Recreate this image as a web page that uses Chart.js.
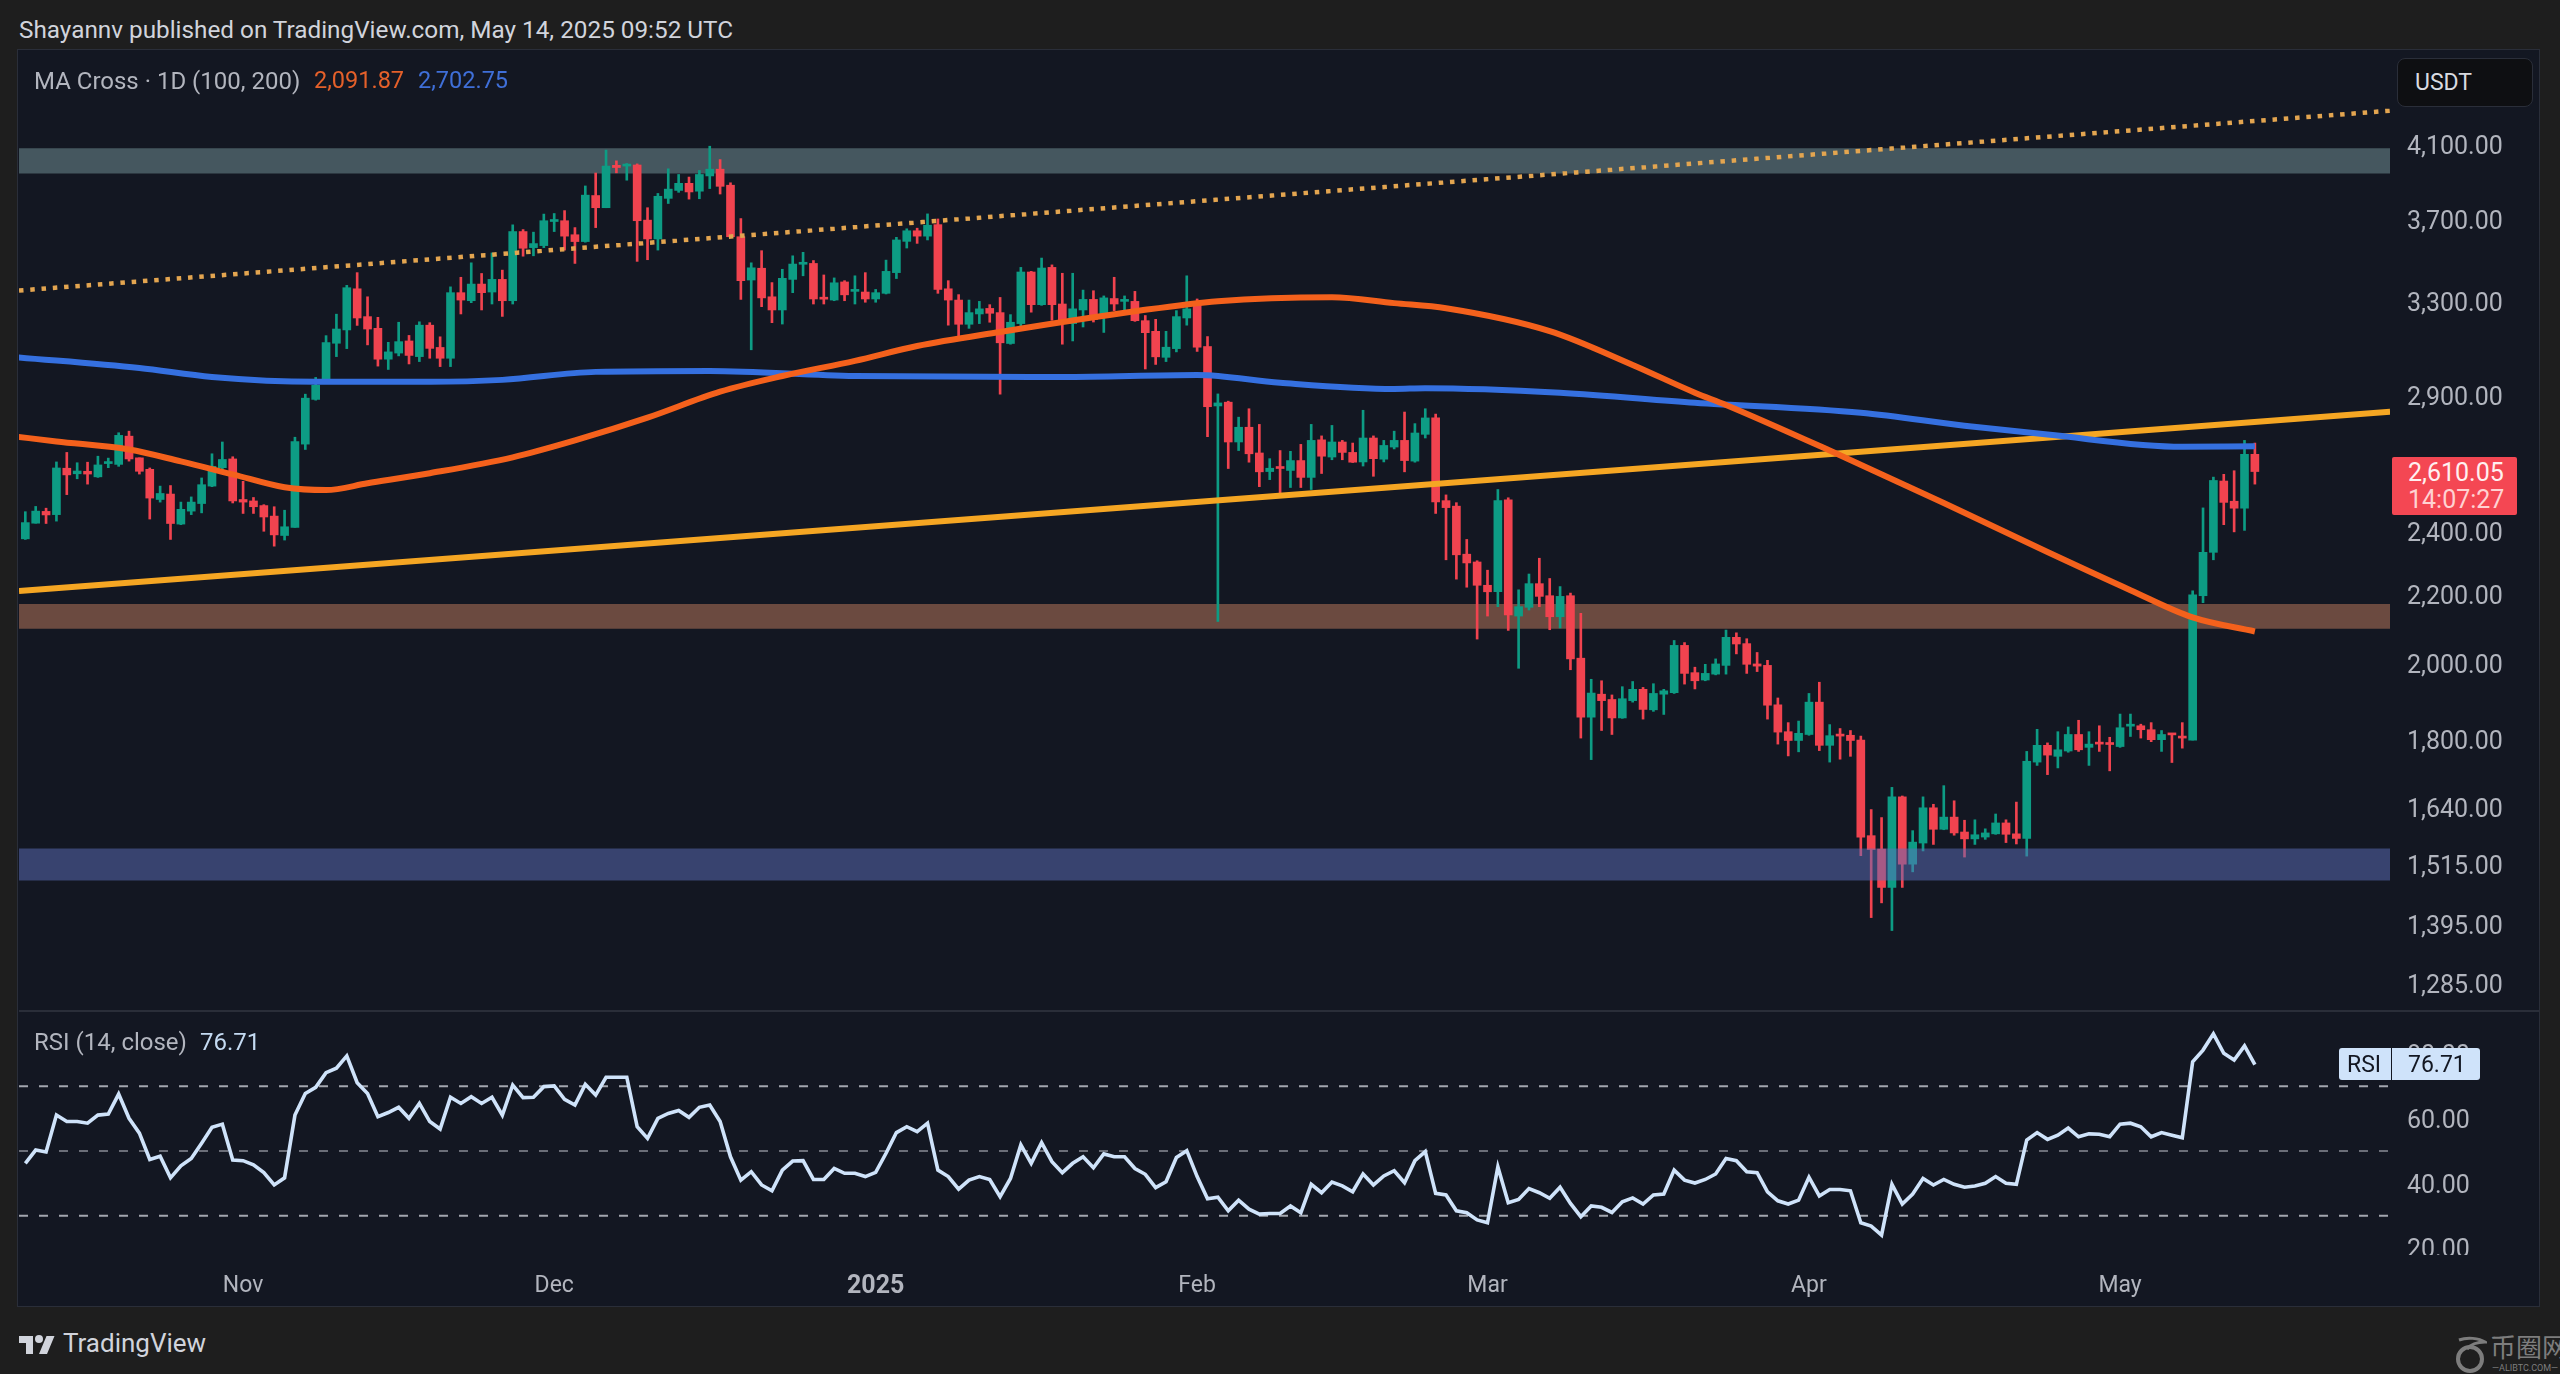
<!DOCTYPE html>
<html>
<head>
<meta charset="utf-8">
<title>ETH/USDT</title>
<script src="https://cdn.jsdelivr.net/npm/chart.js@4"></script>
<style>
    html, body { margin: 0; padding: 0; background: #1e1e1e; }
    body { width: 2560px; height: 1374px; position: relative; overflow: hidden; font-family: Roboto, sans-serif; }
    .abs { position: absolute; white-space: nowrap; line-height: 1; }
    #pane { position: absolute; left: 17px; top: 49px; width: 2523px; height: 1258px; background: #131722; border: 1px solid #2a2e39; box-sizing: border-box; }
    #sep { position: absolute; left: 19px; top: 1010px; width: 2521px; height: 2px; background: #2a2e39; }
    canvas { position: absolute; left: 19px; }
</style>
</head>
<body>
<div id="pane"></div>
<div id="sep"></div>
<canvas id="priceChart" width="2521" height="960" style="top:50px"></canvas>
<canvas id="rsiChart" width="2521" height="295" style="top:1012px"></canvas>

<div class="abs" style="left:19px;top:18px;font-size:24.3px;color:#d1d4dc">Shayannv published on TradingView.com, May 14, 2025 09:52 UTC</div>
<div class="abs" style="left:34px;top:69px;font-size:24px;color:#b2b5be">MA Cross · 1D (100, 200)</div>
<div class="abs" style="left:314px;top:69px;font-size:23.5px;color:#e5602a">2,091.87</div>
<div class="abs" style="left:418px;top:69px;font-size:23.5px;color:#3f6fd8">2,702.75</div>
<div class="abs" style="left:2397px;top:58px;width:136px;height:49px;background:#0e0f12;border:1px solid #2a2e39;border-radius:8px;box-sizing:border-box"></div>
<div class="abs" style="left:2415px;top:71px;font-size:23px;color:#d9dbe0">USDT</div>

<!-- etiket harga terakhir -->
<div class="abs" style="left:2392px;top:457px;width:125px;height:58px;background:#f44753;border-radius:2px"></div>
<div class="abs" style="left:2408px;top:460px;font-size:25px;color:#fff0f0">2,610.05</div>
<div class="abs" style="left:2408px;top:487px;font-size:25px;color:#ffd2d2">14:07:27</div>

<div class="abs" style="left:34px;top:1030px;font-size:24px;color:#b2b5be">RSI (14, close)</div>
<div class="abs" style="left:200px;top:1030px;font-size:24px;color:#c4daf2">76.71</div>
<div class="abs" style="left:2339px;top:1048px;width:141px;height:32px;background:#cfe3fa;border-radius:3px"></div>
<div class="abs" style="left:2391px;top:1048px;width:1px;height:32px;background:#131722"></div>
<div class="abs" style="left:2347px;top:1053px;font-size:23px;color:#131722">RSI</div>
<div class="abs" style="left:2408px;top:1053px;font-size:23px;color:#131722">76.71</div>
<!-- nutup bagian bawah label 20.00 seperti aslinya -->
<div class="abs" style="left:2395px;top:1255px;width:130px;height:14px;background:#131722"></div>

<svg class="abs" style="left:19px;top:1332px" width="36" height="22" viewBox="0 0 36 22">
    <path fill="#d1d4dc" d="M14 22H7V11H0V4h14v18zM28 22h-8l7.5-18h8L28 22z"></path>
    <circle fill="#d1d4dc" cx="20" cy="7" r="4"></circle>
</svg>
<div class="abs" style="left:63px;top:1330px;font-size:26px;color:#d1d4dc">TradingView</div>

<svg class="abs" style="left:2455px;top:1336px" width="32" height="38" viewBox="0 0 32 38">
    <circle cx="15" cy="23" r="12" fill="none" stroke="#7d7d7d" stroke-width="4"></circle>
    <path d="M4 4 C12 1 24 2 30 6 C22 6 16 8 12 13" fill="none" stroke="#7d7d7d" stroke-width="3"></path>
</svg>
<div class="abs" style="left:2490px;top:1333px;font-size:26px;font-family:'Noto Sans CJK SC';color:#7d7d7d">币圈网</div>
<div class="abs" style="left:2492px;top:1364px;font-size:9px;color:#7d7d7d">—ALIBTC.COM—</div>

<script>
// Candle harian (indeks 0 = 11 Okt 2024, 215 = 14 Mei 2025)
const opens = [2378,2430,2470,2459,2622,2602,2611,2591,2639,2636,
    2741,2660,2618,2511,2530,2427,2471,2497,2558,2624,
    2656,2511,2506,2490,2454,2389,2416,2711,2884,2955,
    3117,3175,3361,3234,3182,3049,3075,3127,3060,3196,
    3099,3053,3343,3306,3383,3346,3405,3306,3638,3558,
    3568,3689,3693,3622,3588,3824,3760,3987,3983,3989,
    3696,3601,3809,3851,3889,3847,3929,3966,3879,3612,
    3402,3458,3324,3264,3405,3477,3481,3319,3309,3393,
    3349,3346,3314,3340,3437,3589,3642,3615,3673,3361,
    3309,3200,3246,3271,3252,3116,3203,3440,3288,3462,
    3291,3203,3264,3312,3240,3316,3303,3303,3216,3169,
    3057,3094,3228,3288,3103,2858,2873,2719,2775,2678,
    2610,2625,2614,2650,2589,2727,2663,2719,2680,2645,
    2734,2655,2700,2725,2648,2748,2811,2507,2488,2328,
    2303,2230,2210,2510,2137,2163,2235,2198,2135,2198,
    2016,1858,1918,1904,1856,1901,1931,1877,1918,1922,
    2052,1976,1956,1972,1996,2075,2057,2000,1996,1890,
    1821,1799,1814,1897,1787,1814,1812,1800,1577,1548,
    1468,1664,1516,1561,1639,1591,1618,1585,1570,1574,
    1581,1605,1581,1571,1746,1787,1760,1773,1814,1782,
    1794,1793,1784,1835,1836,1826,1801,1816,1809,1800,
    2198,2334,2576,2505,2481,2673];
const highs = [2469,2487,2481,2645,2680,2642,2644,2666,2659,2754,
    2760,2660,2623,2558,2560,2502,2520,2587,2675,2719,
    2664,2575,2518,2493,2486,2474,2737,2905,2973,3150,
    3245,3377,3437,3324,3231,3121,3209,3151,3211,3207,
    3145,3370,3415,3484,3433,3532,3449,3672,3648,3635,
    3727,3730,3745,3658,3875,3945,4072,4012,3997,3995,
    3760,3835,3968,3937,3923,3959,4094,4019,3892,3704,
    3484,3543,3390,3453,3518,3535,3495,3426,3412,3399,
    3422,3437,3358,3497,3609,3652,3655,3728,3702,3399,
    3334,3309,3303,3288,3321,3243,3462,3443,3507,3474,
    3434,3434,3355,3352,3328,3415,3328,3349,3239,3222,
    3169,3261,3422,3314,3146,2906,2877,2814,2847,2786,
    2657,2687,2684,2710,2786,2742,2782,2725,2715,2841,
    2742,2725,2760,2834,2789,2847,2826,2527,2500,2376,
    2307,2277,2546,2517,2216,2265,2315,2251,2226,2206,
    2145,1958,1954,1916,1938,1952,1936,1946,1931,2066,
    2060,1991,1999,2014,2096,2088,2071,2032,2010,1908,
    1844,1848,1920,1950,1839,1829,1824,1810,1635,1617,
    1686,1666,1588,1664,1647,1690,1655,1611,1612,1592,
    1625,1612,1652,1772,1827,1793,1821,1833,1850,1821,
    1836,1807,1866,1866,1840,1844,1824,1816,1844,2213,
    2482,2590,2600,2613,2725,2715];
const lows = [2376,2430,2429,2437,2528,2584,2565,2589,2624,2629,
    2648,2601,2444,2502,2376,2425,2459,2465,2556,2614,
    2499,2463,2463,2403,2354,2374,2416,2691,2881,2952,
    3060,3094,3195,3110,3020,3006,3063,3029,3039,3053,
    3018,3018,3246,3297,3264,3291,3235,3291,3516,3518,
    3558,3638,3546,3481,3585,3658,3760,3946,3906,3491,
    3499,3546,3782,3841,3805,3807,3861,3832,3609,3312,
    3089,3279,3207,3201,3343,3422,3291,3291,3306,3306,
    3291,3299,3299,3337,3409,3556,3579,3596,3340,3196,
    3146,3182,3203,3209,2905,3113,3185,3254,3285,3218,
    3113,3127,3188,3210,3164,3261,3261,3213,3008,3027,
    3039,3080,3196,3082,2739,2121,2621,2687,2644,2556,
    2581,2519,2553,2553,2546,2603,2653,2653,2643,2630,
    2593,2645,2693,2609,2644,2734,2463,2310,2249,2224,
    2070,2137,2165,2095,1988,2155,2165,2097,2102,1984,
    1805,1752,1824,1814,1855,1897,1853,1873,1865,1920,
    1945,1932,1954,1970,1972,2028,1974,1979,1853,1790,
    1761,1771,1812,1774,1746,1753,1760,1534,1408,1437,
    1383,1468,1500,1544,1558,1590,1578,1531,1558,1569,
    1580,1562,1559,1533,1738,1716,1732,1770,1772,1738,
    1772,1725,1782,1809,1805,1796,1772,1745,1780,1800,
    2177,2310,2425,2401,2406,2565];
const closes = [2432,2471,2458,2623,2598,2612,2601,2634,2644,2744,
    2656,2611,2516,2532,2429,2477,2502,2563,2629,2654,
    2506,2502,2486,2451,2391,2418,2721,2889,2941,3120,
    3179,3366,3228,3179,3049,3080,3124,3065,3196,3095,
    3053,3343,3309,3383,3343,3405,3306,3638,3555,3578,
    3693,3699,3615,3588,3826,3760,3983,3975,3991,3693,
    3601,3820,3858,3889,3843,3937,3966,3873,3612,3399,
    3460,3319,3264,3410,3478,3484,3314,3313,3389,3333,
    3355,3314,3343,3443,3596,3642,3615,3670,3358,3309,
    3200,3252,3269,3249,3119,3209,3440,3288,3459,3288,
    3206,3269,3312,3221,3319,3291,3309,3216,3163,3059,
    3100,3234,3269,3100,2855,2870,2719,2775,2675,2609,
    2622,2621,2650,2589,2725,2666,2719,2680,2644,2734,
    2657,2706,2725,2650,2753,2811,2503,2483,2326,2300,
    2230,2210,2507,2140,2165,2235,2196,2135,2196,2014,
    1858,1921,1901,1856,1906,1931,1878,1920,1927,2052,
    1974,1954,1974,2000,2075,2056,1999,1994,1889,1820,
    1799,1817,1897,1787,1811,1810,1799,1574,1547,1468,
    1664,1516,1563,1639,1591,1618,1583,1570,1579,1583,
    1605,1580,1571,1748,1787,1763,1776,1814,1776,1790,
    1790,1789,1831,1838,1826,1801,1814,1813,1805,2201,
    2334,2578,2501,2481,2673,2610.05];

// RSI per candle
const rsiValues = [46.2,50.3,49.7,61.1,59.1,59.1,58.6,61.1,61.4,67.6,
    60.1,55.5,47.4,48.4,41.7,45.4,47.7,52.4,57.3,58.3,
    47.2,47.0,45.7,43.3,39.5,41.7,61.1,67.8,69.7,74.2,
    75.6,79.4,71.1,67.8,60.6,61.9,63.5,60.1,64.7,59.1,
    56.8,66.6,64.7,66.8,64.7,66.6,61.1,70.4,66.5,66.6,
    69.9,70.1,66.0,64.2,70.6,67.3,72.8,72.8,72.8,57.5,
    53.9,60.1,61.6,62.5,60.4,63.5,64.2,59.1,48.2,41.0,
    43.6,39.5,37.7,44.1,46.9,47.0,41.2,41.2,44.6,43.1,
    43.1,42.1,43.4,49.3,55.7,57.5,56.0,58.6,44.1,42.1,
    38.2,41.0,42.1,41.2,35.9,41.5,51.9,46.2,52.6,46.7,
    43.3,46.2,48.2,44.8,49.1,48.2,48.2,44.6,42.8,38.7,
    40.5,48.0,50.1,42.1,35.2,35.7,31.5,34.8,32.0,30.5,
    30.7,30.7,33.0,30.9,39.7,37.1,40.4,39.2,37.4,42.9,
    39.5,42.3,43.9,40.2,47.0,49.8,36.9,36.4,31.5,30.9,
    28.7,27.8,45.1,34.0,35.0,38.4,37.1,35.4,38.8,33.8,
    29.7,33.0,32.6,31.0,34.3,35.5,33.6,36.4,36.7,44.1,
    41.0,40.1,41.2,42.9,47.7,47.0,43.6,43.3,37.4,34.6,
    33.6,34.8,41.9,36.1,38.1,38.1,37.7,27.8,26.8,24.0,
    39.7,33.6,36.7,41.5,39.5,41.2,39.7,38.8,39.2,40.0,
    42.1,40.0,39.7,53.4,55.7,53.6,54.9,57.1,54.4,55.3,
    55.2,54.4,58.3,58.6,57.5,54.4,55.7,54.9,54.1,77.6,
    81.2,86.2,80.2,78.1,82.5,76.71];

// MA 100 dan 200, titik-titik yang dibaca dari garisnya
const ma100Index = [-1,3,10,15,20,25,29,33,39,47,53,60,67,73,80,86,94,107,115,126,132,137,147,155,161,164,174,185,195,203,209,215];
const ma100Values = [2740,2721,2691,2647,2600,2554,2544,2568,2604,2662,2725,2812,2915,2979,3042,3105,3166,3258,3304,3322,3295,3272,3170,3025,2911,2862,2687,2499,2335,2215,2133,2091.87];
const ma200Index = [-1,11,18,28,39,46,55,66,80,100,113,121,132,135,148,161,177,187,195,208,215];
const ma200Values = [3058,3012,2975,2955,2955,2963,2996,3000,2979,2975,2983,2951,2926,2929,2911,2871,2831,2781,2747,2701,2702.75];

// garis tren dan zona harga [bawah, atas]
const trendSolid = [2212, 2835];
const trendDotted = [3353, 4300];
const zoneGrey = [3943, 4083];
const zoneBrown = [2100, 2173];
const zoneBlue = [1482, 1549];

const priceTicks = [4100, 3700, 3300, 2900, 2400, 2200, 2000, 1800, 1640, 1515, 1395, 1285];
const rsiTicks = [80, 60, 40, 20];
const rsiLevels = [70, 50, 30];
const timeTickIndex = [21, 51, 82, 113, 141, 172, 202];
const timeTickLabels = ['Nov', 'Dec', '2025', 'Feb', 'Mar', 'Apr', 'May'];

const xMin = -0.61, xMax = 228.03;
const green = '#0d9c84', red = '#f1434f';
const axisFont = { family: 'Roboto', size: 25 };

const candleColors = closes.map((c, i) => c >= opens[i] ? green : red);
const toPoints = (xs, ys) => xs.map((x, i) => ({ x: x, y: ys[i] }));

// sumbu kanan: lebar tetap, tanpa margin atas/bawah supaya area plot penuh
function fitRightAxis(axis) {
    axis.width = 150;
    axis.paddingTop = 0;
    axis.paddingBottom = 0;
}

function zoneDataset(zone, color, order) {
    return {
        type: 'line',
        data: [{ x: xMin, y: zone[1] }, { x: xMax, y: zone[1] }],
        borderWidth: 0,
        pointRadius: 0,
        fill: { target: { value: zone[0] } },
        backgroundColor: color,
        order: order
    };
}

function lineDataset(points, color, width, order, dash) {
    return {
        type: 'line',
        data: points,
        borderColor: color,
        borderWidth: width,
        borderDash: dash || [],
        pointRadius: 0,
        fill: false,
        cubicInterpolationMode: 'monotone',
        order: order
    };
}

new Chart(document.getElementById('priceChart'), {
    type: 'bar',
    data: {
        datasets: [
            zoneDataset(zoneGrey, 'rgba(119, 151, 156, 0.5)', 10),
            zoneDataset(zoneBrown, 'rgba(195, 125, 94, 0.5)', 10),
            // sumbu candle
            {
                data: lows.map((l, i) => ({ x: i, y: [l, highs[i]] })),
                backgroundColor: candleColors,
                barThickness: 2,
                grouped: false,
                order: 9
            },
            // badan candle
            {
                data: opens.map((o, i) => ({ x: i, y: [o, closes[i]] })),
                backgroundColor: candleColors,
                barThickness: 8,
                minBarLength: 2,
                grouped: false,
                order: 8
            },
            lineDataset([{ x: xMin, y: trendDotted[0] }, { x: xMax, y: trendDotted[1] }], '#e3a550', 4.5, 6, [4.5, 6.8]),
            lineDataset([{ x: xMin, y: trendSolid[0] }, { x: xMax, y: trendSolid[1] }], '#f5a623', 6, 5),
            lineDataset(toPoints(ma200Index, ma200Values), '#3570e0', 6, 4),
            lineDataset(toPoints(ma100Index, ma100Values), '#f4611c', 6, 3),
            zoneDataset(zoneBlue, 'rgba(93, 111, 188, 0.5)', 1)
        ]
    },
    options: {
        responsive: false,
        animation: false,
        events: [],
        layout: { padding: 0 },
        plugins: { legend: { display: false }, tooltip: { enabled: false } },
        scales: {
            x: { type: 'linear', min: xMin, max: xMax, offset: false, display: false, grid: { display: false } },
            y: {
                type: 'logarithmic',
                position: 'right',
                min: 1239,
                max: 4677,
                beginAtZero: false,
                grid: { display: false, drawTicks: false },
                border: { display: false },
                afterFit: fitRightAxis,
                afterBuildTicks: (axis) => { axis.ticks = priceTicks.map(v => ({ value: v })); },
                ticks: {
                    autoSkip: false,
                    padding: 17,
                    labelOffset: 3,
                    color: '#b2b5be',
                    font: axisFont,
                    callback: (v) => v.toLocaleString('en-US', { minimumFractionDigits: 2 })
                }
            }
        }
    }
});

new Chart(document.getElementById('rsiChart'), {
    type: 'line',
    data: {
        datasets: [
            ...rsiLevels.map((level) => ({
                data: [{ x: xMin, y: level }, { x: xMax, y: level }],
                borderColor: level === 50 ? '#6b6e78' : '#a3a6af',
                borderWidth: 2,
                borderDash: [9, 11],
                pointRadius: 0,
                order: 2
            })),
            {
                data: rsiValues.map((v, i) => ({ x: i, y: v })),
                borderColor: '#cfe3fa',
                borderWidth: 3.6,
                pointRadius: 0,
                order: 1
            }
        ]
    },
    options: {
        responsive: false,
        animation: false,
        events: [],
        layout: { padding: 0 },
        plugins: { legend: { display: false }, tooltip: { enabled: false } },
        scales: {
            x: {
                type: 'linear',
                min: xMin,
                max: xMax,
                grid: { display: false, drawTicks: false },
                border: { display: false },
                afterFit: (axis) => { axis.height = 52; },
                afterBuildTicks: (axis) => { axis.ticks = timeTickIndex.map(v => ({ value: v })); },
                ticks: {
                    autoSkip: false,
                    maxRotation: 0,
                    padding: 17,
                    color: '#b2b5be',
                    font: (ctx) => ({ family: 'Roboto', size: ctx.index === 2 ? 25 : 23, weight: ctx.index === 2 ? 'bold' : 'normal' }),
                    callback: (v) => timeTickLabels[timeTickIndex.indexOf(v)]
                }
            },
            y: {
                position: 'right',
                min: 17.85,
                max: 92.97,
                grid: { display: false, drawTicks: false },
                border: { display: false },
                afterFit: fitRightAxis,
                afterBuildTicks: (axis) => { axis.ticks = rsiTicks.map(v => ({ value: v })); },
                ticks: {
                    autoSkip: false,
                    padding: 17,
                    labelOffset: 3,
                    color: '#b2b5be',
                    font: axisFont,
                    callback: (v) => v.toFixed(2)
                }
            }
        }
    }
});
</script>
</body>
</html>
